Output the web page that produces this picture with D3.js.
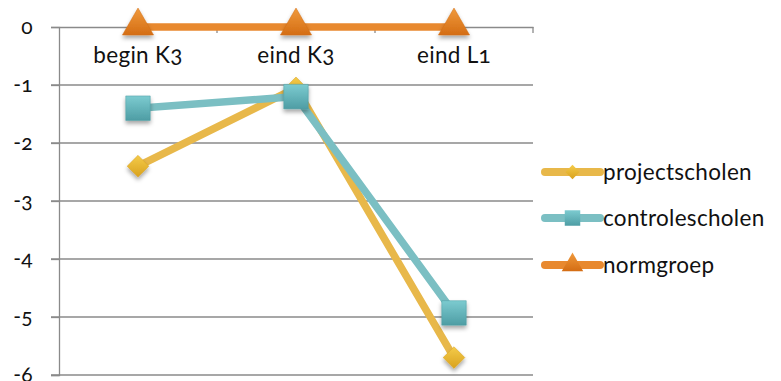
<!DOCTYPE html>
<html>
<head>
<meta charset="utf-8">
<script src="https://cdn.jsdelivr.net/npm/d3@7"></script>
<style>
  html, body { margin: 0; padding: 0; background: #fff; }
  svg text { font-family: Lato, "Open Sans", sans-serif; font-feature-settings: "onum" 1; fill: #111; letter-spacing: 0.3px; }
</style>
</head>
<body>
<svg id="chart" width="781" height="381"></svg>
<script>
// Categories and series values
const categories = ["begin K3", "eind K3", "eind L1"];
const projectscholen = [-2.4, -1.05, -5.7];
const controlescholen = [-1.4, -1.2, -4.93];
const normgroep = [0, 0, 0];
const yTicks = [0, -1, -2, -3, -4, -5, -6];

const series = [
  { name: "projectscholen", values: projectscholen, color: "#E8B84A", light: "#F4CB4A", dark: "#D9A21E", symbol: "diamond" },
  { name: "controlescholen", values: controlescholen, color: "#7BBFC3", light: "#7CCBD0", dark: "#4E9DA4", symbol: "square" },
  { name: "normgroep", values: normgroep, color: "#E8892F", light: "#F09A3C", dark: "#D46D14", symbol: "triangle" }
];

const svg = d3.select("#chart");
const plot = { left: 59, right: 533, top: 27, bottom: 375 };

const x = d3.scaleBand().domain(categories).range([plot.left, plot.right]).paddingInner(0).paddingOuter(0);
const y = d3.scaleLinear().domain([-6, 0]).range([plot.bottom, plot.top]);

const defs = svg.append("defs");
const shadow = defs.append("filter").attr("id", "shadow").attr("x", "-50%").attr("y", "-50%").attr("width", "200%").attr("height", "200%");
shadow.append("feDropShadow").attr("dx", 0).attr("dy", 3).attr("stdDeviation", 2.2).attr("flood-color", "#000").attr("flood-opacity", 0.35);

series.forEach((s, i) => {
  const g = defs.append("linearGradient").attr("id", "grad" + i).attr("x1", 0).attr("y1", 0).attr("x2", 0).attr("y2", 1);
  g.append("stop").attr("offset", "0%").attr("stop-color", s.light);
  g.append("stop").attr("offset", "100%").attr("stop-color", s.dark);
});

// Horizontal gridlines
svg.append("g")
  .selectAll("line")
  .data(yTicks.filter(d => d !== 0))
  .join("line")
  .attr("x1", plot.left - 8).attr("x2", plot.right)
  .attr("y1", d => y(d)).attr("y2", d => y(d))
  .attr("stroke", "#8a8a8a").attr("stroke-width", 1.3);

// Y axis
const yAxis = svg.append("g")
  .attr("transform", `translate(${plot.left},0)`)
  .call(d3.axisLeft(y).tickValues(yTicks).tickSize(8).tickPadding(18).tickFormat(d3.format("d")));
yAxis.select(".domain").attr("stroke", "#8a8a8a").attr("stroke-width", 1.3);
yAxis.selectAll(".tick line").attr("stroke", "#8a8a8a").attr("stroke-width", 1.3);
yAxis.selectAll(".tick text").attr("font-size", 21).attr("dy", "0.32em")
  .text(d => d === 0 ? "0" : "-" + Math.abs(d));

// Category axis along the zero line
const xAxis = svg.append("g")
  .attr("transform", `translate(0,${y(0)})`)
  .call(d3.axisBottom(x).tickSize(0).tickPadding(20));
xAxis.select(".domain").attr("stroke", "#8a8a8a").attr("stroke-width", 1.3);
xAxis.selectAll(".tick text").attr("font-size", 22.5);
svg.append("g")
  .selectAll("line")
  .data(categories.slice(1).concat(["__end"]))
  .join("line")
  .attr("x1", (d, i) => x(categories[0]) + x.bandwidth() * (i + 1))
  .attr("x2", (d, i) => x(categories[0]) + x.bandwidth() * (i + 1))
  .attr("y1", y(0)).attr("y2", y(0) + 6)
  .attr("stroke", "#8a8a8a").attr("stroke-width", 1.3);

const cx = c => x(c) + x.bandwidth() / 2;
const line = d3.line().x((d, i) => cx(categories[i])).y(d => y(d));

const symbolSize = { diamond: 300, square: 600, triangle: 420 };
const symbolType = { diamond: d3.symbolDiamond2, square: d3.symbolSquare, triangle: d3.symbolTriangle };

series.forEach((s, i) => {
  const g = svg.append("g");
  g.append("path")
    .datum(s.values)
    .attr("d", line)
    .attr("fill", "none")
    .attr("stroke", s.color)
    .attr("stroke-width", 7.5)
    .attr("stroke-linejoin", "round");
  g.selectAll("path.mark")
    .data(s.values)
    .join("path")
    .attr("class", "mark")
    .attr("transform", (d, j) => `translate(${cx(categories[j])},${y(d) + (s.symbol === "triangle" ? -1 : 0)})`)
    .attr("d", d3.symbol().type(symbolType[s.symbol]).size(symbolSize[s.symbol]))
    .attr("fill", `url(#grad${i})`)
    .attr("stroke", s.dark)
    .attr("stroke-opacity", 0.5)
    .attr("stroke-width", 1)
    .attr("filter", "url(#shadow)");
});

// Legend
const legend = svg.append("g").attr("transform", "translate(542,0)");
const legendY = [172, 218, 265];
series.forEach((s, i) => {
  const row = legend.append("g").attr("transform", `translate(0,${legendY[i]})`);
  row.append("line")
    .attr("x1", 3).attr("x2", 58).attr("y1", 0).attr("y2", 0)
    .attr("stroke", s.color).attr("stroke-width", 8).attr("stroke-linecap", "round");
  const sz = { diamond: 130, square: 240, triangle: 200 }[s.symbol];
  row.append("path")
    .attr("transform", `translate(30.5,0)`)
    .attr("d", d3.symbol().type(symbolType[s.symbol]).size(sz))
    .attr("fill", `url(#grad${i})`);
  row.append("text")
    .attr("x", 61).attr("y", 0).attr("dy", "0.35em")
    .attr("font-size", 22.5)
    .text(s.name);
});
</script>
</body>
</html>
